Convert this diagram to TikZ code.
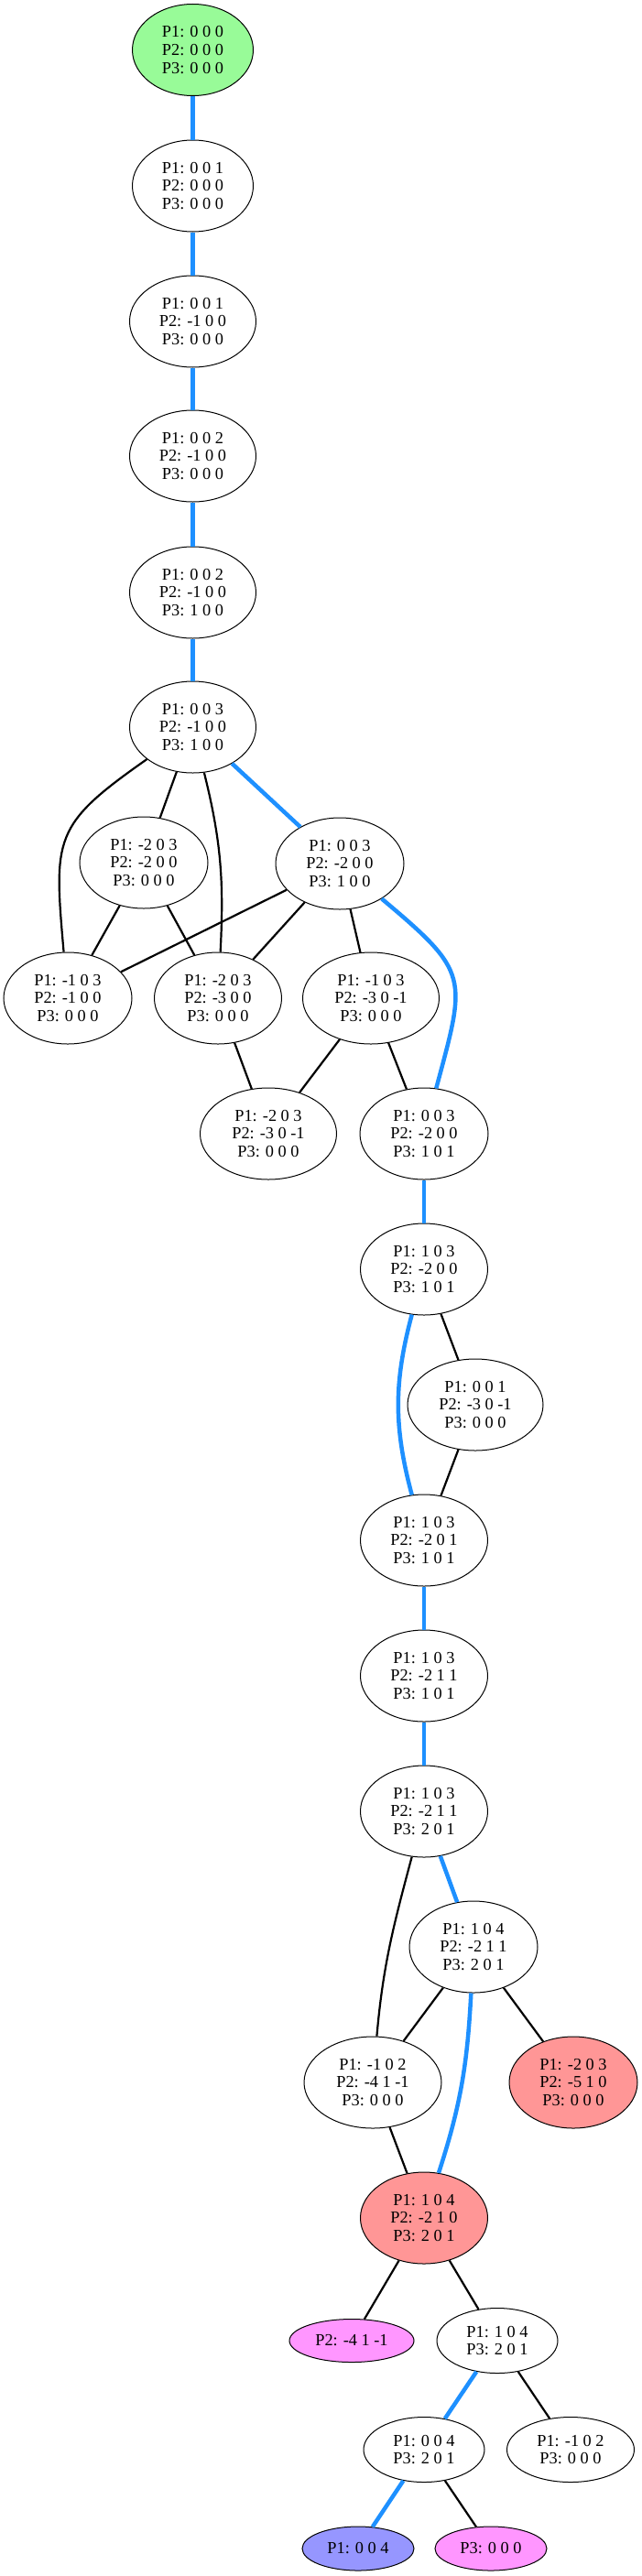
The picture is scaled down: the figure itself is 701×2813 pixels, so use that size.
\documentclass[tikz,border=0pt]{standalone}
\usepackage{fontspec}
\setmainfont{Liberation Serif}
\usetikzlibrary{shapes.geometric}
\definecolor{edgeblue}{HTML}{1E90FF}
\definecolor{startgreen}{HTML}{98FB98}
\definecolor{endred}{HTML}{FF9696}
\definecolor{leafmag}{HTML}{FF96FF}
\definecolor{leafblue}{HTML}{9696FF}
\begin{document}
\begin{tikzpicture}[x=1pt,y=1pt,
  st/.style={ellipse,draw=black,line width=1pt,inner sep=0pt,align=center,
    font=\fontsize{18.3}{19.7}\selectfont,minimum height=100pt,minimum width=140pt},
  wd/.style={minimum width=#1},
  ht/.style={minimum height=#1},
  be/.style={draw=edgeblue,line width=4.5pt},
  ke/.style={draw=black,line width=2.2pt}]
\useasboundingbox (0,0) rectangle (701,-2813);
\node[st,wd=132,fill=startgreen] (n0) at (210.5,-54.5) {P1: 0 0 0\\P2: 0 0 0\\P3: 0 0 0};
\node[st,wd=132] (n1) at (210.5,-203) {P1: 0 0 1\\P2: 0 0 0\\P3: 0 0 0};
\node[st,wd=138] (n2) at (210.5,-351) {P1: 0 0 1\\P2: -1 0 0\\P3: 0 0 0};
\node[st,wd=138] (n3) at (210.5,-498) {P1: 0 0 2\\P2: -1 0 0\\P3: 0 0 0};
\node[st,wd=138] (n4) at (210.5,-647) {P1: 0 0 2\\P2: -1 0 0\\P3: 1 0 0};
\node[st,wd=138] (n5) at (210.5,-794) {P1: 0 0 3\\P2: -1 0 0\\P3: 1 0 0};
\node[st,wd=140] (A) at (157,-942) {P1: -2 0 3\\P2: -2 0 0\\P3: 0 0 0};
\node[st,wd=140] (B) at (371,-943) {P1: 0 0 3\\P2: -2 0 0\\P3: 1 0 0};
\node[st,wd=140] (C) at (74,-1090) {P1: -1 0 3\\P2: -1 0 0\\P3: 0 0 0};
\node[st,wd=139] (D) at (238,-1090) {P1: -2 0 3\\P2: -3 0 0\\P3: 0 0 0};
\node[st,wd=149] (E) at (405,-1090) {P1: -1 0 3\\P2: -3 0 -1\\P3: 0 0 0};
\node[st,wd=149] (F) at (293,-1238) {P1: -2 0 3\\P2: -3 0 -1\\P3: 0 0 0};
\node[st,wd=140] (G) at (463,-1238) {P1: 0 0 3\\P2: -2 0 0\\P3: 1 0 1};
\node[st,wd=139] (H) at (463,-1386) {P1: 1 0 3\\P2: -2 0 0\\P3: 1 0 1};
\node[st,wd=148] (I) at (519,-1534) {P1: 0 0 1\\P2: -3 0 -1\\P3: 0 0 0};
\node[st,wd=139] (J) at (463,-1682) {P1: 1 0 3\\P2: -2 0 1\\P3: 1 0 1};
\node[st,wd=139] (K) at (463,-1830) {P1: 1 0 3\\P2: -2 1 1\\P3: 1 0 1};
\node[st,wd=139] (L) at (463,-1978) {P1: 1 0 3\\P2: -2 1 1\\P3: 2 0 1};
\node[st,wd=140] (M) at (517,-2126) {P1: 1 0 4\\P2: -2 1 1\\P3: 2 0 1};
\node[st,wd=150] (N) at (407,-2274) {P1: -1 0 2\\P2: -4 1 -1\\P3: 0 0 0};
\node[st,wd=140,fill=endred] (O) at (626,-2274) {P1: -2 0 3\\P2: -5 1 0\\P3: 0 0 0};
\node[st,wd=139,fill=endred] (P) at (463,-2422) {P1: 1 0 4\\P2: -2 1 0\\P3: 2 0 1};
\node[st,wd=136,ht=47,fill=leafmag] (Q) at (384,-2556) {P2: -4 1 -1};
\node[st,wd=132,ht=71] (R) at (543,-2556) {P1: 1 0 4\\P3: 2 0 1};
\node[st,wd=132,ht=71] (S) at (463,-2675) {P1: 0 0 4\\P3: 2 0 1};
\node[st,wd=139,ht=71] (T) at (623,-2675) {P1: -1 0 2\\P3: 0 0 0};
\node[st,wd=122,ht=48,fill=leafblue] (U) at (391,-2783) {P1: 0 0 4};
\node[st,wd=122,ht=48,fill=leafmag] (V) at (536,-2783) {P3: 0 0 0};
% blue edges
\draw[be] (n0) -- (n1);
\draw[be] (n1) -- (n2);
\draw[be] (n2) -- (n3);
\draw[be] (n3) -- (n4);
\draw[be] (n4) -- (n5);
\draw[be] (n5) -- (B);
\draw[be] (B) to[out=-40,in=75,looseness=1.5] (G);
\draw[be] (G) -- (H);
\draw[be] (H) to[out=-105,in=105] (J);
\draw[be] (J) -- (K);
\draw[be] (K) -- (L);
\draw[be] (L) -- (M);
\draw[be] (M) to[out=-93,in=72] (P);
\draw[be] (R) -- (S);
\draw[be] (S) -- (U);
% black edges
\draw[ke] (n5) -- (A);
\draw[ke] (n5) to[out=-76,in=87] (D);
\draw[ke] (n5) to[out=215,in=95,looseness=1.4] (C);
\draw[ke] (A) -- (C);
\draw[ke] (A) -- (D);
\draw[ke] (B) -- (C);
\draw[ke] (B) -- (D);
\draw[ke] (B) -- (E);
\draw[ke] (D) -- (F);
\draw[ke] (E) -- (F);
\draw[ke] (E) -- (G);
\draw[ke] (H) -- (I);
\draw[ke] (I) -- (J);
\draw[ke] (L) to[out=-105,in=85] (N);
\draw[ke] (M) -- (N);
\draw[ke] (M) -- (O);
\draw[ke] (N) -- (P);
\draw[ke] (P) -- (Q);
\draw[ke] (P) -- (R);
\draw[ke] (R) -- (T);
\draw[ke] (S) -- (V);
\end{tikzpicture}
\end{document}
